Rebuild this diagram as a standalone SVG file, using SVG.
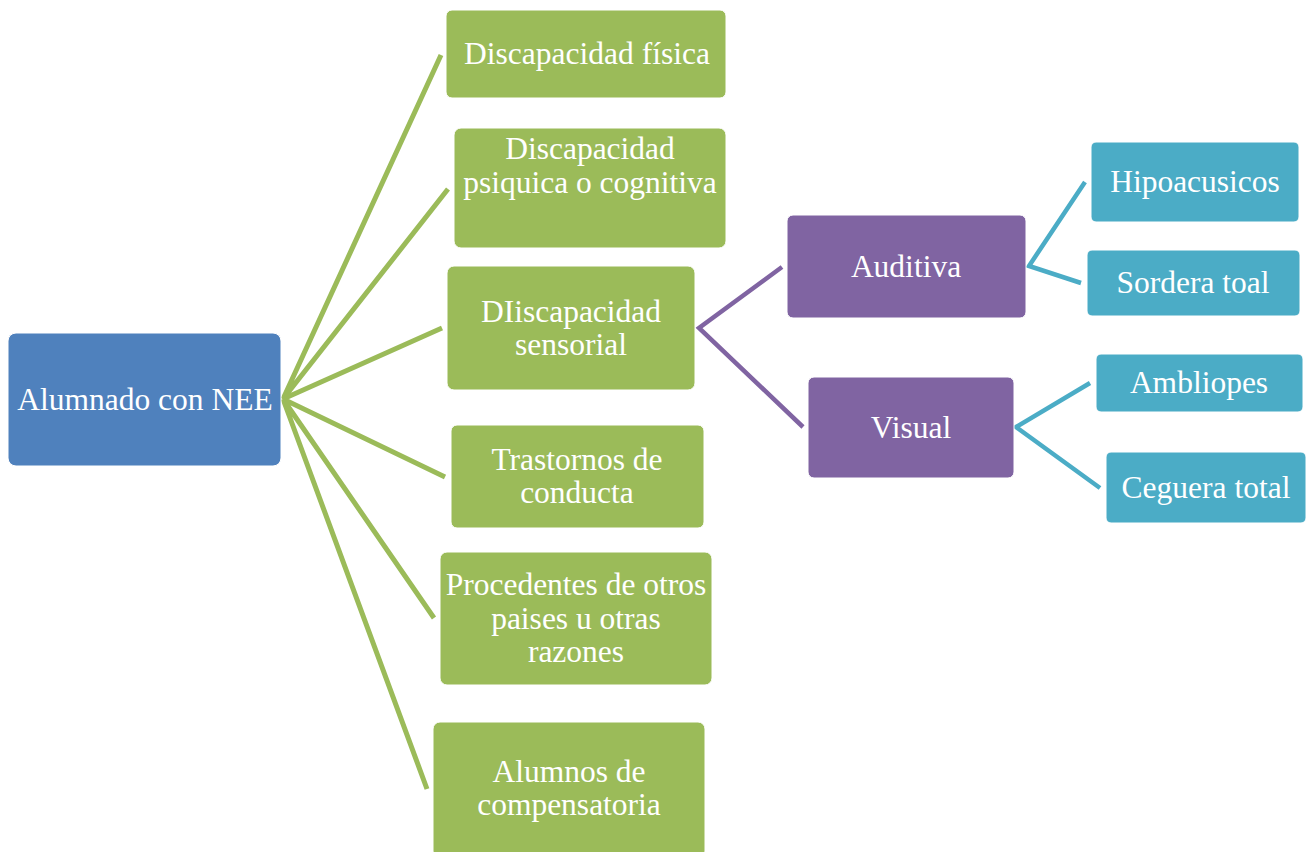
<svg xmlns="http://www.w3.org/2000/svg" width="1315" height="852" viewBox="0 0 1315 852">
<style>
.box{stroke:#ffffff;stroke-width:1}
.g{fill:#9BBB59}.b{fill:#4F81BD}.p{fill:#8064A2}.t{fill:#4BACC6}
text{font-family:"Liberation Serif","Times New Roman",serif;font-size:31.5px;fill:#ffffff;text-anchor:middle}
.cg{stroke:#9BBB59;stroke-width:5;fill:none}
.cp{stroke:#8064A2;stroke-width:4.5;fill:none}
.ct{stroke:#4BACC6;stroke-width:4.5;fill:none}
</style>
<rect width="1315" height="852" fill="#ffffff"/>
<g id="connectors">
<path class="cg" d="M441,55 L283,399 L448,189 M283,399 L442,328 M283,399 L445,477 M283,399 L434,618 M283,399 L427,789"/>
<path class="cp" d="M782,267 L699,328 L803,427"/>
<path class="ct" d="M1085,182 L1029,266 L1081,283"/>
<path class="ct" d="M1090,383 L1016,427 L1100,488"/>
</g>
<g id="n-root"><rect class="box b" x="8" y="333" width="273" height="133" rx="8"/><text x="145" y="410">Alumnado con NEE</text></g>
<g id="n-fisica"><rect class="box g" x="446" y="10" width="280" height="88" rx="6"/><text x="587" y="64">Discapacidad física</text></g>
<g id="n-psiquica"><rect class="box g" x="454" y="128" width="272" height="120" rx="7"/><text x="590" y="159">Discapacidad</text><text x="590" y="193">psiquica o cognitiva</text></g>
<g id="n-sensorial"><rect class="box g" x="447" y="266" width="248" height="124" rx="7"/><text x="571" y="322">DIiscapacidad</text><text x="571" y="355">sensorial</text></g>
<g id="n-trastornos"><rect class="box g" x="451" y="425" width="253" height="103" rx="6"/><text x="577" y="470">Trastornos de</text><text x="577" y="503">conducta</text></g>
<g id="n-procedentes"><rect class="box g" x="440" y="552" width="272" height="133" rx="7"/><text x="576" y="595">Procedentes de otros</text><text x="576" y="629">paises u otras</text><text x="576" y="662">razones</text></g>
<g id="n-compensatoria"><rect class="box g" x="433" y="722" width="272" height="136" rx="7"/><text x="569" y="782">Alumnos de</text><text x="569" y="815">compensatoria</text></g>
<g id="n-auditiva"><rect class="box p" x="787" y="215" width="239" height="103" rx="6"/><text x="906" y="277">Auditiva</text></g>
<g id="n-visual"><rect class="box p" x="808" y="377" width="206" height="101" rx="6"/><text x="911" y="438">Visual</text></g>
<g id="n-hipoacusicos"><rect class="box t" x="1091" y="142" width="208" height="80" rx="5"/><text x="1195" y="192">Hipoacusicos</text></g>
<g id="n-sordera"><rect class="box t" x="1087" y="250" width="213" height="66" rx="5"/><text x="1193" y="293">Sordera toal</text></g>
<g id="n-ambliopes"><rect class="box t" x="1096" y="354" width="207" height="58" rx="5"/><text x="1199" y="393">Ambliopes</text></g>
<g id="n-ceguera"><rect class="box t" x="1106" y="452" width="200" height="71" rx="5"/><text x="1206" y="498">Ceguera total</text></g>
</svg>
